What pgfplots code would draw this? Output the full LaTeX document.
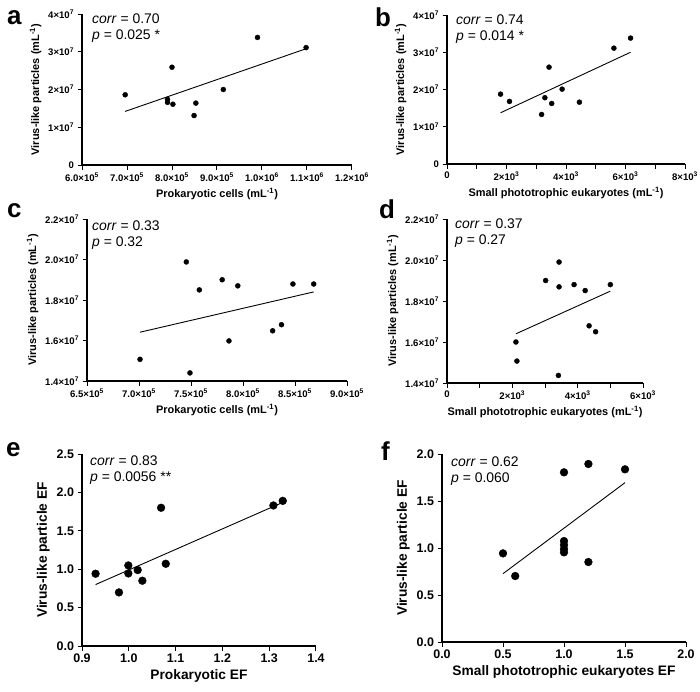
\documentclass[border=0pt]{standalone}
\usepackage{pgfplots}
\pgfplotsset{compat=1.18}
\usepackage{fontspec}
\setmainfont{Liberation Sans}

\newcommand{\E}[1]{×10\textsuperscript{#1}}

\pgfplotsset{
  prism/.style={
    scale only axis,
    anchor=south west,
    axis lines*=left,
    axis line style={-, line width=1.2pt},
    tick align=outside,
    tick pos=left,
    major tick length=4.5bp,
    tick style={black, line width=1pt},
    scaled ticks=false,
    clip=false,
    tick label style={font=\fontsize{9.6}{10}\selectfont\bfseries},
    label style={font=\fontsize{11}{12}\selectfont\bfseries},
  },
  prismbig/.style={
    prism,
    tick label style={font=\fontsize{12.5}{13}\selectfont\bfseries},
    label style={font=\fontsize{13.8}{15}\selectfont\bfseries},
  },
  dots/.style={only marks, mark=*, mark size=2.5bp, black},
  bigdots/.style={only marks, mark=*, mark size=3.9bp, black},
  fit/.style={black, line width=0.9pt},
}

\tikzset{
  note/.style={anchor=base west, inner sep=0pt, font=\fontsize{14}{16}\selectfont},
  letter/.style={anchor=base west, inner sep=0pt, font=\fontsize{26}{26}\selectfont\bfseries},
}

\begin{document}
\begin{tikzpicture}
\path[use as bounding box] (0,0) rectangle (700bp,-692bp);

% a
\begin{axis}[prism, at={(82bp,-165bp)}, width=270bp, height=151bp,
  xmin=6e5, xmax=1.2e6, ymin=0, ymax=4e7,
  xtick={6e5,7e5,8e5,9e5,1e6,1.1e6,1.2e6},
  xticklabels={6.0\E{5},7.0\E{5},8.0\E{5},9.0\E{5},1.0\E{6},1.1\E{6},1.2\E{6}},
  ytick={0,1e7,2e7,3e7,4e7},
  yticklabels={0,1\E{7},2\E{7},3\E{7},4\E{7}},
  xlabel={Prokaryotic cells (mL\textsuperscript{-1})},
  ylabel={Virus-like particles (mL\textsuperscript{-1})}]
\addplot[dots] coordinates {
  (6.96e5,1.86e7) (7.90e5,1.74e7) (7.90e5,1.66e7) (8.00e5,2.59e7)
  (8.02e5,1.61e7) (8.49e5,1.31e7) (8.53e5,1.64e7) (9.14e5,2.00e7)
  (9.90e5,3.38e7) (1.098e6,3.11e7)};
\addplot[fit] coordinates {(6.96e5,1.42e7) (1.098e6,3.08e7)};
\end{axis}

% b
\begin{axis}[prism, at={(447bp,-164bp)}, width=238bp, height=149bp,
  xmin=0, xmax=8000, ymin=0, ymax=4e7,
  xtick={0,1000,2000,3000,4000,5000,6000,7000,8000},
  xticklabels={0,,2\E{3},,4\E{3},,6\E{3},,8\E{3}},
  ytick={0,1e7,2e7,3e7,4e7},
  yticklabels={0,1\E{7},2\E{7},3\E{7},4\E{7}},
  xlabel={Small phototrophic eukaryotes (mL\textsuperscript{-1})},
  ylabel={Virus-like particles (mL\textsuperscript{-1})}]
\addplot[dots] coordinates {
  (1800,1.875e7) (2100,1.68e7) (3180,1.33e7) (3290,1.78e7) (3430,2.60e7)
  (3520,1.625e7) (3870,2.01e7) (4450,1.66e7) (5610,3.11e7) (6170,3.38e7)};
\addplot[fit] coordinates {(1800,1.375e7) (6170,3.00e7)};
\end{axis}

% c
\begin{axis}[prism, at={(87bp,-381bp)}, width=260bp, height=162bp,
  xmin=6.5e5, xmax=9e5, ymin=1.4e7, ymax=2.2e7,
  xtick={6.5e5,7e5,7.5e5,8e5,8.5e5,9e5},
  xticklabels={6.5\E{5},7.0\E{5},7.5\E{5},8.0\E{5},8.5\E{5},9.0\E{5}},
  ytick={1.4e7,1.6e7,1.8e7,2.0e7,2.2e7},
  yticklabels={1.4\E{7},1.6\E{7},1.8\E{7},2.0\E{7},2.2\E{7}},
  xlabel={Prokaryotic cells (mL\textsuperscript{-1})},
  ylabel={Virus-like particles (mL\textsuperscript{-1})}]
\addplot[dots] coordinates {
  (7.01e5,1.507e7) (7.455e5,1.988e7) (7.49e5,1.44e7) (7.58e5,1.85e7)
  (7.80e5,1.90e7) (7.865e5,1.598e7) (7.95e5,1.87e7) (8.285e5,1.648e7)
  (8.37e5,1.678e7) (8.48e5,1.879e7) (8.68e5,1.879e7)};
\addplot[fit] coordinates {(7.01e5,1.641e7) (8.68e5,1.84e7)};
\end{axis}

% d
\begin{axis}[prism, at={(447bp,-383bp)}, width=196bp, height=164bp,
  xmin=0, xmax=6000, ymin=1.4e7, ymax=2.2e7,
  xtick={0,1000,2000,3000,4000,5000,6000},
  xticklabels={0,,2\E{3},,4\E{3},,6\E{3}},
  ytick={1.4e7,1.6e7,1.8e7,2.0e7,2.2e7},
  yticklabels={1.4\E{7},1.6\E{7},1.8\E{7},2.0\E{7},2.2\E{7}},
  xlabel={Small phototrophic eukaryotes (mL\textsuperscript{-1})},
  ylabel={Virus-like particles (mL\textsuperscript{-1})}]
\addplot[dots] coordinates {
  (2110,1.60e7) (2140,1.507e7) (3020,1.90e7) (3430,1.99e7) (3430,1.869e7)
  (3410,1.437e7) (3890,1.88e7) (4230,1.851e7) (4350,1.679e7) (4550,1.65e7)
  (5000,1.88e7)};
\addplot[fit] coordinates {(2110,1.64e7) (5000,1.848e7)};
\end{axis}

% e
\begin{axis}[prismbig, at={(82bp,-646bp)}, width=234bp, height=192bp,
  xmin=0.9, xmax=1.4, ymin=0, ymax=2.5,
  xtick={0.9,1.0,1.1,1.2,1.3,1.4},
  xticklabels={0.9,1.0,1.1,1.2,1.3,1.4},
  ytick={0,0.5,1.0,1.5,2.0,2.5},
  yticklabels={0.0,0.5,1.0,1.5,2.0,2.5},
  xlabel={Prokaryotic EF},
  ylabel={Virus-like particle EF}]
\addplot[bigdots] coordinates {
  (0.929,0.941) (0.979,0.698) (0.999,1.049) (0.999,0.945) (1.019,0.989)
  (1.029,0.85) (1.069,1.80) (1.079,1.071) (1.309,1.83) (1.329,1.89)};
\addplot[fit] coordinates {(0.929,0.80) (1.329,1.87)};
\end{axis}

% f
\begin{axis}[prismbig, at={(442bp,-642bp)}, width=244bp, height=188bp,
  xmin=0, xmax=2, ymin=0, ymax=2,
  xtick={0,0.5,1.0,1.5,2.0},
  xticklabels={0.0,0.5,1.0,1.5,2.0},
  ytick={0,0.5,1.0,1.5,2.0},
  yticklabels={0.0,0.5,1.0,1.5,2.0},
  xlabel={Small phototrophic eukaryotes EF},
  ylabel={Virus-like particle EF}]
\addplot[bigdots] coordinates {
  (0.5,0.943) (0.6,0.702) (1.0,1.805) (1.0,1.074) (1.0,1.032) (1.0,0.989)
  (1.0,0.954) (1.2,1.894) (1.2,0.851) (1.5,1.837)};
\addplot[fit] coordinates {(0.5,0.727) (1.5,1.695)};
\end{axis}

% panel letters
\node[letter] at (7bp,-24bp) {a};
\node[letter] at (375bp,-26bp) {b};
\node[letter] at (7bp,-217bp) {c};
\node[letter] at (379bp,-218bp) {d};
\node[letter] at (6bp,-456bp) {e};
\node[letter] at (381bp,-460bp) {f};

% statistics
\node[note] at (92bp,-23bp) {\textit{corr} = 0.70};
\node[note] at (92bp,-39bp) {\textit{p} = 0.025 *};
\node[note] at (456bp,-24bp) {\textit{corr} = 0.74};
\node[note] at (456bp,-40bp) {\textit{p} = 0.014 *};
\node[note] at (92bp,-230bp) {\textit{corr} = 0.33};
\node[note] at (92bp,-246bp) {\textit{p} = 0.32};
\node[note] at (455bp,-228bp) {\textit{corr} = 0.37};
\node[note] at (455bp,-244bp) {\textit{p} = 0.27};
\node[note] at (90bp,-465bp) {\textit{corr} = 0.83};
\node[note] at (90bp,-481bp) {\textit{p} = 0.0056 **};
\node[note] at (451bp,-466bp) {\textit{corr} = 0.62};
\node[note] at (451bp,-482bp) {\textit{p} = 0.060};
\end{tikzpicture}
\end{document}
